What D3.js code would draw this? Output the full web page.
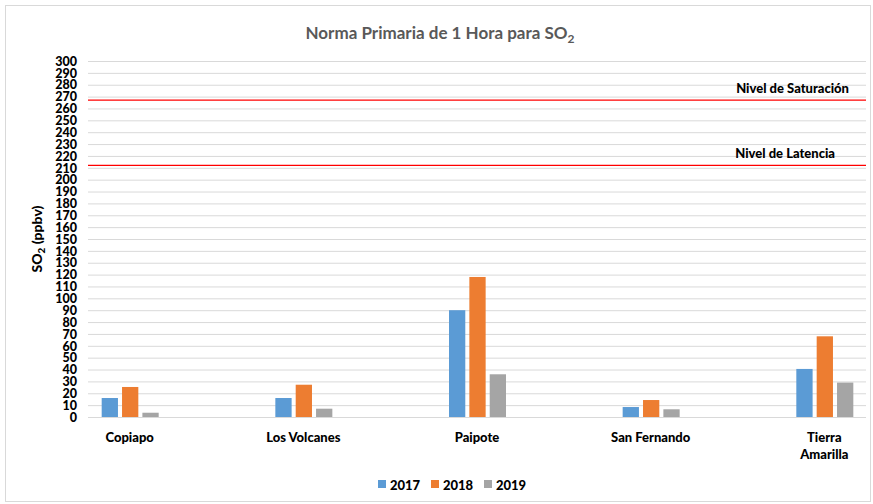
<!DOCTYPE html>
<html>
<head>
<meta charset="utf-8">
<script src="https://cdn.jsdelivr.net/npm/d3@7"></script>
<style>
  body { margin: 0; background: #fff; }
  text { font-family: Lato, "Open Sans", sans-serif; }
</style>
</head>
<body>
<script>
// data
const stations = ["Copiapo", "Los Volcanes", "Paipote", "San Fernando", "Tierra Amarilla"];
const years = ["2017", "2018", "2019"];
const v2017 = [16, 16, 90, 8.4, 40.5];
const v2018 = [25.3, 27.2, 118, 14.3, 68];
const v2019 = [3.6, 7, 36, 6.5, 29];
const yTicks = d3.range(0, 301, 10);
const refLevels = [
  { name: "Nivel de Saturación", value: 267 },
  { name: "Nivel de Latencia", value: 212 }
];
const colors = ["#5b9bd5", "#ed7d31", "#a5a5a5"];

const width = 873, height = 504;
const marginLeft = 88, marginRight = 7, marginTop = 61, marginBottom = 87;

const series = [v2017, v2018, v2019];
const data = stations.map((s, i) => ({ station: s, values: series.map(v => v[i]) }));

const svg = d3.select("body").append("svg")
    .attr("width", width)
    .attr("height", height)
    .attr("viewBox", [0, 0, width, height]);

// outer frame
svg.append("rect")
    .attr("x", 5.5).attr("y", 5.5)
    .attr("width", width - 8).attr("height", height - 8)
    .attr("fill", "#fff")
    .attr("stroke", "#d9d9d9");

const x = d3.scalePoint(stations, [marginLeft, width - marginRight]).padding(0.24);
const xInner = d3.scaleBand(years, [-28, 29]).paddingInner(0.2);
const y = d3.scaleLinear([0, 300], [height - marginBottom, marginTop]);

// gridlines + tick labels
const yAxis = d3.axisLeft(y).tickValues(yTicks).tickSize(0).tickPadding(11);
svg.append("g")
    .attr("transform", `translate(${marginLeft},0)`)
    .call(yAxis)
    .call(g => g.select(".domain").remove())
    .call(g => g.selectAll(".tick line").clone()
        .attr("x2", width - marginLeft - marginRight)
        .attr("stroke", "#d9d9d9"))
    .call(g => g.selectAll(".tick text")
        .attr("fill", "#000")
        .attr("dy", "0.34em")
        .style("font-family", "Lato, sans-serif")
        .style("font-size", "12.5px")
        .style("font-weight", "900"));

// axis title
svg.append("text")
    .attr("transform", `translate(42,${y(150)}) rotate(-90)`)
    .attr("text-anchor", "middle")
    .style("font-size", "14px")
    .style("font-weight", "900")
    .call(t => {
      t.append("tspan").text("SO");
      t.append("tspan").attr("dy", 3).style("font-size", "10px").text("2");
      t.append("tspan").attr("dy", -3).text(" (ppbv)");
    });

// bars
svg.append("g")
  .selectAll("g")
  .data(data)
  .join("g")
    .attr("transform", d => `translate(${x(d.station)},0)`)
  .selectAll("rect")
  .data(d => d.values.map((v, j) => ({ year: years[j], value: v, j })))
  .join("rect")
    .attr("x", d => xInner(d.year))
    .attr("width", xInner.bandwidth())
    .attr("y", d => y(d.value))
    .attr("height", d => y(0) - y(d.value))
    .attr("fill", d => colors[d.j]);

// reference lines
svg.append("g")
  .selectAll("line")
  .data(refLevels)
  .join("line")
    .attr("x1", marginLeft)
    .attr("x2", width - marginRight)
    .attr("y1", d => y(d.value))
    .attr("y2", d => y(d.value))
    .attr("stroke", "#ff0000")
    .attr("stroke-width", 1.2);

svg.append("g")
  .selectAll("text")
  .data(refLevels)
  .join("text")
    .attr("x", d => d.value > 250 ? 849 : 835)
    .attr("y", d => y(d.value) - 7)
    .attr("text-anchor", "end")
    .style("font-size", "13px")
    .style("font-weight", "900")
    .text(d => d.name);

// category labels
svg.append("g")
  .selectAll("text")
  .data(stations)
  .join("text")
    .attr("x", d => x(d))
    .attr("y", 442)
    .attr("text-anchor", "middle")
    .style("font-size", "13px")
    .style("font-weight", "900")
    .each(function (d) {
      const words = d === "Tierra Amarilla" ? ["Tierra", "Amarilla"] : [d];
      d3.select(this).selectAll("tspan")
        .data(words)
        .join("tspan")
          .attr("x", x(d))
          .attr("dy", (w, i) => i ? 17 : 0)
          .text(w => w);
    });

// title
svg.append("text")
    .attr("x", 440)
    .attr("y", 39)
    .attr("text-anchor", "middle")
    .attr("fill", "#595959")
    .style("font-size", "17px")
    .style("font-weight", "bold")
    .call(t => {
      t.append("tspan").text("Norma Primaria de 1 Hora para SO");
      t.append("tspan").attr("dy", 4).style("font-size", "12px").text("2");
    });

// legend
const legend = svg.append("g")
  .selectAll("g")
  .data(years)
  .join("g")
    .attr("transform", (d, i) => `translate(${378 + i * 53},480)`);
legend.append("rect")
    .attr("width", 8).attr("height", 8)
    .attr("fill", (d, i) => colors[i]);
legend.append("text")
    .attr("x", 12).attr("y", 9.5)
    .style("font-size", "13px")
    .style("font-weight", "900")
    .text(d => d);
</script>
</body>
</html>
